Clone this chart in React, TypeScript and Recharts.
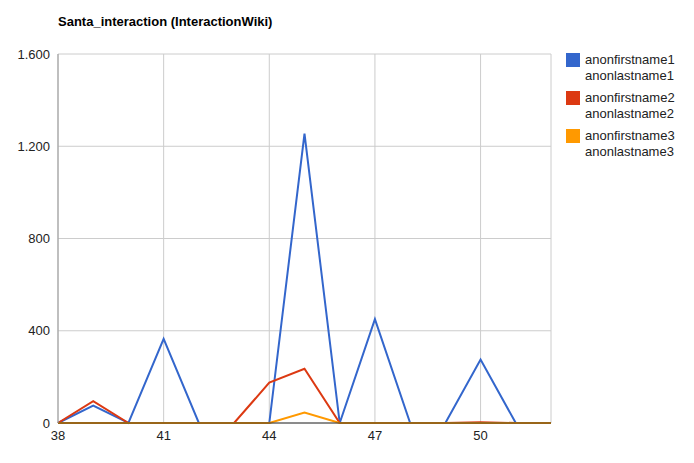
import { CartesianGrid, Line, LineChart, XAxis, YAxis } from 'recharts'

const weeks = [38, 39, 40, 41, 42, 43, 44, 45, 46, 47, 48, 49, 50, 51, 52]
const person1 = [0, 75, 0, 365, 0, 0, 0, 1255, 0, 450, 0, 0, 275, 0, 0]
const person2 = [0, 95, 0, 0, 0, 0, 175, 235, 0, 0, 0, 0, 3, 0, 0]
const person3 = [0, 0, 0, 0, 0, 0, 0, 45, 0, 0, 0, 0, 0, 0, 0]
const xTicks = [38, 41, 44, 47, 50]
const yTicks = [0, 400, 800, 1200, 1600]

const series = [
  { key: 'p1', first: 'anonfirstname1', last: 'anonlastname1', colour: '#3366cc' },
  { key: 'p2', first: 'anonfirstname2', last: 'anonlastname2', colour: '#dc3912' },
  { key: 'p3', first: 'anonfirstname3', last: 'anonlastname3', colour: '#ff9900' },
]

const data = weeks.map((w, i) => ({ week: w, p1: person1[i], p2: person2[i], p3: person3[i] }))

const fmt = (v: number) => v.toLocaleString('de-DE')

export default function App() {
  return (
    <div style={{ position: 'absolute', left: 0, top: 0, width: 694, height: 463, fontFamily: 'Arial, "Liberation Sans", sans-serif', background: '#fff' }}>
      <div style={{ position: 'absolute', left: 58, top: 14, fontSize: 13, fontWeight: 'bold', color: '#000' }}>
        Santa_interaction (InteractionWiki)
      </div>
      <div style={{ position: 'absolute', left: 566, top: 52, fontSize: 13, color: '#222' }}>
        {series.map((s) => (
          <div key={s.key} style={{ display: 'flex', marginBottom: 6 }}>
            <div style={{ width: 14, height: 14, background: s.colour, marginRight: 5, marginTop: 1 }} />
            <div style={{ lineHeight: '16px' }}>
              {s.first}
              <br />
              {s.last}
            </div>
          </div>
        ))}
      </div>
      <LineChart width={694} height={463} data={data} margin={{ top: 54, right: 143, bottom: 23, left: 0 }}>
        <CartesianGrid stroke="#cccccc" verticalPoints={undefined} />
        <XAxis
          type="number"
          dataKey="week"
          domain={[38, 52]}
          ticks={xTicks}
          tickLine={false}
          axisLine={{ stroke: '#333' }}
          tick={{ fontSize: 13, fill: '#222' }}
          height={17}
        />
        <YAxis
          domain={[0, 1600]}
          ticks={yTicks}
          tickFormatter={fmt}
          tickLine={false}
          axisLine={{ stroke: '#999' }}
          tick={{ fontSize: 13, fill: '#222' }}
          width={58}
        />
        {series.map((s) => (
          <Line key={s.key} dataKey={s.key} stroke={s.colour} strokeWidth={2} dot={false} isAnimationActive={false} />
        ))}
      </LineChart>
    </div>
  )
}
